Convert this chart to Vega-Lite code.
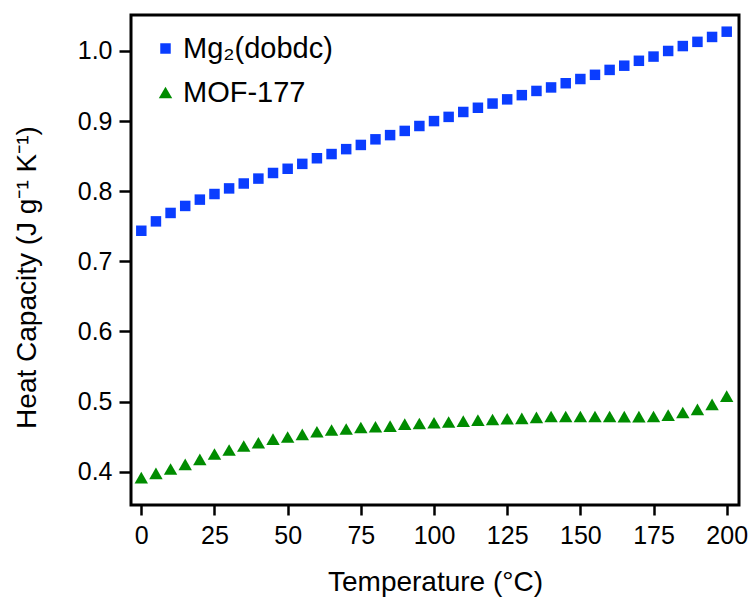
{
  "$schema": "https://vega.github.io/schema/vega-lite/v6.json",
  "width": 608,
  "height": 490,
  "autosize": "none",
  "padding": {"left": 131, "top": 15, "right": 13, "bottom": 93},
  "config": {
    "font": "Liberation Sans",
    "view": {"stroke": "black", "strokeWidth": 3},
    "axis": {"grid": false, "domain": false, "ticks": true, "tickColor": "black", "tickWidth": 2.5, "labelColor": "black", "titleColor": "black", "labelFontSize": 25, "titleFontSize": 28, "titleFontWeight": "normal", "labelFont": "Liberation Sans", "titleFont": "Liberation Sans"}
  },
  "data": {
    "values": [
      {"t": 0, "cp": 0.7436, "s": "Mg₂(dobdc)"},
      {"t": 5, "cp": 0.757, "s": "Mg₂(dobdc)"},
      {"t": 10, "cp": 0.769, "s": "Mg₂(dobdc)"},
      {"t": 15, "cp": 0.779, "s": "Mg₂(dobdc)"},
      {"t": 20, "cp": 0.788, "s": "Mg₂(dobdc)"},
      {"t": 25, "cp": 0.796, "s": "Mg₂(dobdc)"},
      {"t": 30, "cp": 0.804, "s": "Mg₂(dobdc)"},
      {"t": 35, "cp": 0.811, "s": "Mg₂(dobdc)"},
      {"t": 40, "cp": 0.818, "s": "Mg₂(dobdc)"},
      {"t": 45, "cp": 0.826, "s": "Mg₂(dobdc)"},
      {"t": 50, "cp": 0.832, "s": "Mg₂(dobdc)"},
      {"t": 55, "cp": 0.839, "s": "Mg₂(dobdc)"},
      {"t": 60, "cp": 0.847, "s": "Mg₂(dobdc)"},
      {"t": 65, "cp": 0.853, "s": "Mg₂(dobdc)"},
      {"t": 70, "cp": 0.86, "s": "Mg₂(dobdc)"},
      {"t": 75, "cp": 0.866, "s": "Mg₂(dobdc)"},
      {"t": 80, "cp": 0.874, "s": "Mg₂(dobdc)"},
      {"t": 85, "cp": 0.88, "s": "Mg₂(dobdc)"},
      {"t": 90, "cp": 0.886, "s": "Mg₂(dobdc)"},
      {"t": 95, "cp": 0.893, "s": "Mg₂(dobdc)"},
      {"t": 100, "cp": 0.9, "s": "Mg₂(dobdc)"},
      {"t": 105, "cp": 0.906, "s": "Mg₂(dobdc)"},
      {"t": 110, "cp": 0.913, "s": "Mg₂(dobdc)"},
      {"t": 115, "cp": 0.919, "s": "Mg₂(dobdc)"},
      {"t": 120, "cp": 0.925, "s": "Mg₂(dobdc)"},
      {"t": 125, "cp": 0.931, "s": "Mg₂(dobdc)"},
      {"t": 130, "cp": 0.937, "s": "Mg₂(dobdc)"},
      {"t": 135, "cp": 0.943, "s": "Mg₂(dobdc)"},
      {"t": 140, "cp": 0.948, "s": "Mg₂(dobdc)"},
      {"t": 145, "cp": 0.954, "s": "Mg₂(dobdc)"},
      {"t": 150, "cp": 0.96, "s": "Mg₂(dobdc)"},
      {"t": 155, "cp": 0.966, "s": "Mg₂(dobdc)"},
      {"t": 160, "cp": 0.973, "s": "Mg₂(dobdc)"},
      {"t": 165, "cp": 0.979, "s": "Mg₂(dobdc)"},
      {"t": 170, "cp": 0.986, "s": "Mg₂(dobdc)"},
      {"t": 175, "cp": 0.992, "s": "Mg₂(dobdc)"},
      {"t": 180, "cp": 1.0, "s": "Mg₂(dobdc)"},
      {"t": 185, "cp": 1.007, "s": "Mg₂(dobdc)"},
      {"t": 190, "cp": 1.013, "s": "Mg₂(dobdc)"},
      {"t": 195, "cp": 1.02, "s": "Mg₂(dobdc)"},
      {"t": 200, "cp": 1.0275, "s": "Mg₂(dobdc)"},
      {"t": 0, "cp": 0.3915, "s": "MOF-177"},
      {"t": 5, "cp": 0.3976, "s": "MOF-177"},
      {"t": 10, "cp": 0.4038, "s": "MOF-177"},
      {"t": 15, "cp": 0.4104, "s": "MOF-177"},
      {"t": 20, "cp": 0.4175, "s": "MOF-177"},
      {"t": 25, "cp": 0.4252, "s": "MOF-177"},
      {"t": 30, "cp": 0.4309, "s": "MOF-177"},
      {"t": 35, "cp": 0.4366, "s": "MOF-177"},
      {"t": 40, "cp": 0.4413, "s": "MOF-177"},
      {"t": 45, "cp": 0.4465, "s": "MOF-177"},
      {"t": 50, "cp": 0.4494, "s": "MOF-177"},
      {"t": 55, "cp": 0.4532, "s": "MOF-177"},
      {"t": 60, "cp": 0.457, "s": "MOF-177"},
      {"t": 65, "cp": 0.4594, "s": "MOF-177"},
      {"t": 70, "cp": 0.4608, "s": "MOF-177"},
      {"t": 75, "cp": 0.4631, "s": "MOF-177"},
      {"t": 80, "cp": 0.4641, "s": "MOF-177"},
      {"t": 85, "cp": 0.465, "s": "MOF-177"},
      {"t": 90, "cp": 0.4679, "s": "MOF-177"},
      {"t": 95, "cp": 0.4688, "s": "MOF-177"},
      {"t": 100, "cp": 0.4698, "s": "MOF-177"},
      {"t": 105, "cp": 0.4708, "s": "MOF-177"},
      {"t": 110, "cp": 0.4722, "s": "MOF-177"},
      {"t": 115, "cp": 0.4736, "s": "MOF-177"},
      {"t": 120, "cp": 0.4745, "s": "MOF-177"},
      {"t": 125, "cp": 0.4755, "s": "MOF-177"},
      {"t": 130, "cp": 0.476, "s": "MOF-177"},
      {"t": 135, "cp": 0.4774, "s": "MOF-177"},
      {"t": 140, "cp": 0.4788, "s": "MOF-177"},
      {"t": 145, "cp": 0.4788, "s": "MOF-177"},
      {"t": 150, "cp": 0.4788, "s": "MOF-177"},
      {"t": 155, "cp": 0.4788, "s": "MOF-177"},
      {"t": 160, "cp": 0.4788, "s": "MOF-177"},
      {"t": 165, "cp": 0.4785, "s": "MOF-177"},
      {"t": 170, "cp": 0.4785, "s": "MOF-177"},
      {"t": 175, "cp": 0.4788, "s": "MOF-177"},
      {"t": 180, "cp": 0.4807, "s": "MOF-177"},
      {"t": 185, "cp": 0.4845, "s": "MOF-177"},
      {"t": 190, "cp": 0.4888, "s": "MOF-177"},
      {"t": 195, "cp": 0.496, "s": "MOF-177"},
      {"t": 200, "cp": 0.5078, "s": "MOF-177"}
    ]
  },
  "mark": {"type": "point", "filled": true, "opacity": 1},
  "encoding": {
    "x": {
      "field": "t", "type": "quantitative",
      "scale": {"domain": [-3.52, 204.2], "nice": false, "zero": false},
      "axis": {"values": [0, 25, 50, 75, 100, 125, 150, 175, 200], "title": "Temperature (°C)", "tickSize": 10, "labelPadding": 8, "titlePadding": 20}
    },
    "y": {
      "field": "cp", "type": "quantitative",
      "scale": {"domain": [0.3525, 1.0513], "nice": false, "zero": false},
      "axis": {"values": [0.4, 0.5, 0.6, 0.7, 0.8, 0.9, 1.0], "format": ".1f", "title": "Heat Capacity (J g⁻¹ K⁻¹)", "titleFontSize": 28, "tickSize": 12, "labelPadding": 7, "titlePadding": 36, "titleY": 262}
    },
    "color": {
      "field": "s", "type": "nominal",
      "scale": {"domain": ["Mg₂(dobdc)", "MOF-177"], "range": ["#0A3DFF", "#008C00"]},
      "legend": {"title": null, "orient": "none", "legendX": 20, "legendY": 19, "labelFontSize": 29, "labelColor": "black", "labelFont": "Liberation Sans", "rowPadding": 14, "labelOffset": 3, "symbolStrokeWidth": 0}
    },
    "shape": {
      "field": "s", "type": "nominal",
      "scale": {"domain": ["Mg₂(dobdc)", "MOF-177"], "range": ["square", "triangle-up"]}
    },
    "size": {
      "field": "s", "type": "nominal",
      "scale": {"domain": ["Mg₂(dobdc)", "MOF-177"], "range": [110, 180]}
    }
  }
}
